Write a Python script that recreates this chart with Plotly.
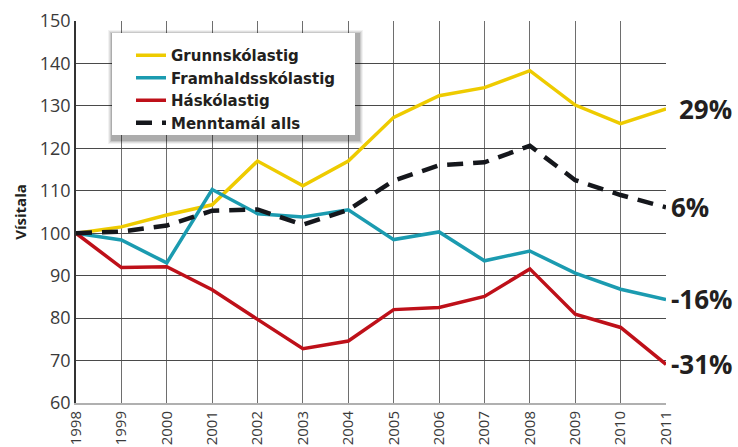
import plotly.graph_objects as go

years = [1998, 1999, 2000, 2001, 2002, 2003, 2004, 2005, 2006, 2007, 2008, 2009, 2010, 2011]
grunnskolastig = [100, 101.5, 104.3, 106.7, 117.0, 111.2, 117.0, 127.3, 132.4, 134.3, 138.3, 130.2, 125.8, 129.3]
framhaldsskolastig = [100, 98.4, 93.0, 110.3, 104.6, 103.8, 105.5, 98.5, 100.3, 93.5, 95.8, 90.6, 86.8, 84.4]
haskolastig = [100, 91.9, 92.1, 86.7, 79.7, 72.8, 74.6, 82.0, 82.5, 85.1, 91.6, 80.9, 77.8, 69.1]
menntamal_alls = [100, 100.4, 101.8, 105.3, 105.6, 102.0, 105.5, 112.4, 116.0, 116.7, 120.6, 112.5, 109.0, 106.1]

series_names = ["Grunnskólastig", "Framhaldsskólastig", "Háskólastig", "Menntamál alls"]
end_labels = ["29%", "-16%", "-31%", "6%"]
y_ticks = [60, 70, 80, 90, 100, 110, 120, 130, 140, 150]

colors = ["#eecb00", "#1b9bb0", "#be1019", "#15171c"]
data = [grunnskolastig, framhaldsskolastig, haskolastig, menntamal_alls]

fig = go.Figure()
for name, vals, col in zip(series_names, data, colors):
    dashed = name == "Menntamál alls"
    fig.add_trace(go.Scatter(
        x=years, y=vals, mode="lines", name=name,
        line=dict(color=col, width=4.5 if dashed else 3.5,
                  dash="16px,10px" if dashed else "solid"),
    ))

for vals, lab in zip(data, end_labels):
    fig.add_annotation(
        x=years[-1], y=vals[-1], text="<b>" + lab + "</b>", showarrow=False,
        xanchor="left", yanchor="middle", xshift=12 if lab == "29%" else 4,
        borderpad=0,
        font=dict(family="Open Sans", size=26, color="#231f20"),
    )

# legend box with soft shadow
x0, x1 = 112, 355
y0, y1 = 33, 135
L, R, T, B = 76, 72, 21, 44
W, H = 738, 447
pw, ph = W - L - R, H - T - B
def px(x):
    return (x - L) / pw
def py(y):
    return (H - B - y) / ph
for i, a in enumerate([0.05, 0.07, 0.10, 0.14]):
    o = 6 - i
    fig.add_shape(type="rect", xref="paper", yref="paper",
                  x0=px(x0 - o + 2), x1=px(x1 + o + 2), y0=py(y1 + o + 3), y1=py(y0 - o + 3),
                  fillcolor=f"rgba(0,0,0,{a})", line=dict(width=0), layer="above")
fig.add_shape(type="rect", xref="paper", yref="paper",
              x0=px(x0), x1=px(x1), y0=py(y1), y1=py(y0),
              fillcolor="white", line=dict(width=0), layer="above")

fig.update_layout(
    width=W, height=H,
    margin=dict(l=L, r=R, t=T, b=B),
    paper_bgcolor="white", plot_bgcolor="white",
    font=dict(family="Open Sans", color="#333333"),
    showlegend=True,
    legend=dict(
        x=px(131), y=py(39), xanchor="left", yanchor="top",
        bgcolor="rgba(0,0,0,0)", borderwidth=0,
        font=dict(family="DejaVu Sans", size=15, color="#231f20", weight="bold"),
        itemwidth=30, tracegroupgap=0,
    ),
    xaxis=dict(
        range=[1998, 2011], tickmode="array", tickvals=years,
        ticktext=[str(y) for y in years], tickangle=-90,
        tickfont=dict(size=15, color="#3a3a3a"),
        showgrid=True, gridcolor="#6e6e6e", gridwidth=1.2,
        showline=True, linecolor="#b0b0b0", linewidth=2,
        ticks="", zeroline=False, mirror=False, automargin=False,
    ),
    yaxis=dict(
        range=[60, 150], tickmode="array", tickvals=y_ticks,
        tickfont=dict(size=18, color="#3a3a3a"),
        showgrid=True, gridcolor="#4a4a4a", gridwidth=1,
        showline=True, linecolor="#333333", linewidth=1.5,
        ticks="", zeroline=False, automargin=False,
        title=dict(text="<b>Vísitala</b>", font=dict(size=15, color="#231f20"), standoff=10),
    ),
)

fig.write_html("out.html", config={"displayModeBar": False},
               post_script="document.body.style.margin='0px';")
